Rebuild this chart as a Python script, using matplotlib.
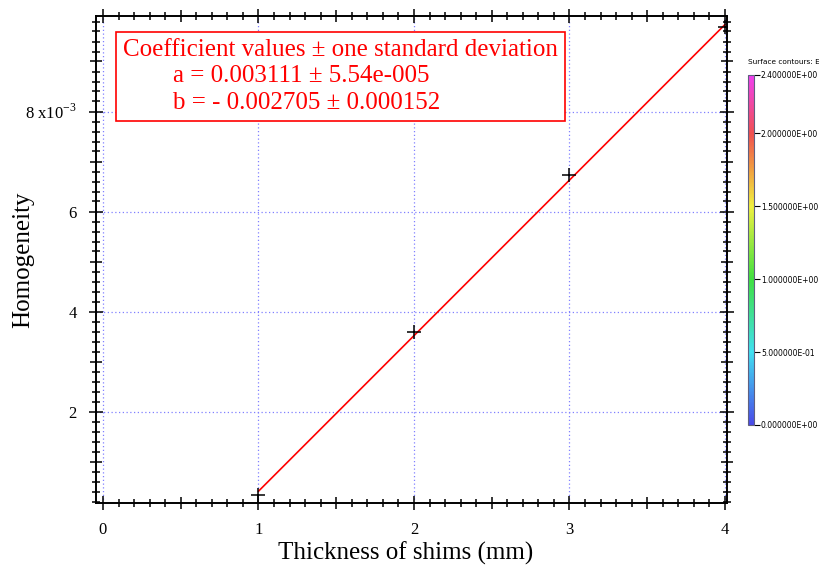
import matplotlib
matplotlib.use("Agg")
import matplotlib.pyplot as plt
import numpy as np
from matplotlib.colors import LinearSegmentedColormap, Normalize
from matplotlib.cm import ScalarMappable
from matplotlib.ticker import MultipleLocator, FuncFormatter

# data
thickness = [1, 2, 3, 4]
homogeneity = [0.33e-3, 3.60e-3, 6.73e-3, 9.70e-3]
coef_a = 0.003111
coef_b = -0.002705
box_lines = ["Coefficient values \u00b1 one standard deviation",
             "        a = 0.003111 \u00b1 5.54e-005",
             "        b = - 0.002705 \u00b1 0.000152"]
x_labels = [0, 1, 2, 3, 4]
y_labels = [2e-3, 4e-3, 6e-3, 8e-3]
cbar_ticks = [0.0, 0.5, 1.0, 1.5, 2.0, 2.4]

plt.rcParams['font.family'] = ['Liberation Serif', 'DejaVu Serif']
plt.rcParams['mathtext.fontset'] = 'custom'
plt.rcParams['mathtext.rm'] = 'Liberation Serif'

fig = plt.figure(figsize=(8.19, 5.65), dpi=100)
ax = fig.add_axes([96/819, 1-503/565, 631/819, 487/565])

ax.set_xlim(-0.045, 4.013)
ax.set_ylim(0.17e-3, 9.91e-3)

# grid lines only at labelled values
for xv in x_labels:
    ax.axvline(xv, color='#8080ff', lw=0.9, ls=(0, (1, 2)), zorder=0)
for yv in y_labels:
    ax.axhline(yv, color='#8080ff', lw=0.9, ls=(0, (1, 2)), zorder=0)

xfit = np.array([thickness[0], thickness[-1]])
ax.plot(xfit, coef_a*xfit + coef_b, color='red', lw=1.2, zorder=3)
ax.plot(thickness, homogeneity, ls='none', marker='+', ms=10, mew=1.1,
        color='black', zorder=4)

ax.xaxis.set_major_locator(MultipleLocator(0.5))
ax.xaxis.set_minor_locator(MultipleLocator(0.1))
ax.yaxis.set_major_locator(MultipleLocator(1e-3))
ax.yaxis.set_minor_locator(MultipleLocator(0.2e-3))

def xfmt(v, pos):
    r = round(v)
    return str(r) if abs(v - r) < 1e-6 else ''

def yfmt(v, pos):
    k = int(round(v*1e3))
    if abs(v*1e3 - k) > 1e-6 or k % 2:
        return ''
    if k == 8:
        return '8 x10$^{-3}$'
    return str(k)

ax.xaxis.set_major_formatter(FuncFormatter(xfmt))
ax.yaxis.set_major_formatter(FuncFormatter(yfmt))

ax.tick_params(which='both', direction='inout', top=True, right=True,
               width=1.1, color='black')
ax.tick_params(which='major', length=10, labelsize=12)
ax.tick_params(which='minor', length=6)
ax.tick_params(axis='x', pad=9)
ax.tick_params(axis='y', pad=9)

fig.canvas.draw()
for tick in ax.xaxis.get_major_ticks():
    if abs(tick.get_loc() - round(tick.get_loc())) > 1e-6:
        tick.tick1line.set_markersize(8)
        tick.tick2line.set_markersize(8)
for tick in ax.yaxis.get_major_ticks():
    if int(round(tick.get_loc()*1e3)) % 2:
        tick.tick1line.set_markersize(8)
        tick.tick2line.set_markersize(8)

for sp in ax.spines.values():
    sp.set_linewidth(1.4)

ax.set_xlabel('Thickness of shims (mm)', fontsize=18, va='center')
ax.xaxis.set_label_coords(0.49, -0.104)
ax.set_ylabel('Homogeneity', fontsize=18, va='center')
ax.yaxis.set_label_coords(-0.116, 0.5)

ax.text(0.043, 0.952, "\n".join(box_lines), transform=ax.transAxes,
        ha='left', va='top', color='red', fontsize=18, linespacing=1.24,
        bbox=dict(boxstyle='square,pad=0.28', fc='white', ec='red', lw=1.2))

# colour bar on the right
cmap = LinearSegmentedColormap.from_list('surf', [
    (0.0, '#4a4ae8'), (0.5/2.4, '#40e0f0'), (1.0/2.4, '#40e040'),
    (1.5/2.4, '#f0f040'), (1.75/2.4, '#f0a040'), (2.0/2.4, '#f05050'),
    (1.0, '#f040f0')])
cax = fig.add_axes([748/819, 1-425/565, 6/819, 350/565])
cb = fig.colorbar(ScalarMappable(norm=Normalize(0, 2.4), cmap=cmap), cax=cax)
cb.set_ticks(cbar_ticks)
cb.set_ticklabels(['%.6fE%+03d' % (t / 10**int(np.floor(np.log10(t))) if t > 0 else 0,
                                   int(np.floor(np.log10(t))) if t > 0 else 0)
                   for t in cbar_ticks])
cax.tick_params(labelsize=5.5, length=4, width=0.8, pad=1)
for lab in cax.get_yticklabels():
    lab.set_family('DejaVu Sans')
cb.outline.set_edgecolor('#606080')
cb.outline.set_linewidth(0.8)
fig.text(748/819, 1-62/565, 'Surface contours: E', fontsize=5.3,
         family='DejaVu Sans', ha='left', va='center')

fig.savefig('out.png', dpi=100)
